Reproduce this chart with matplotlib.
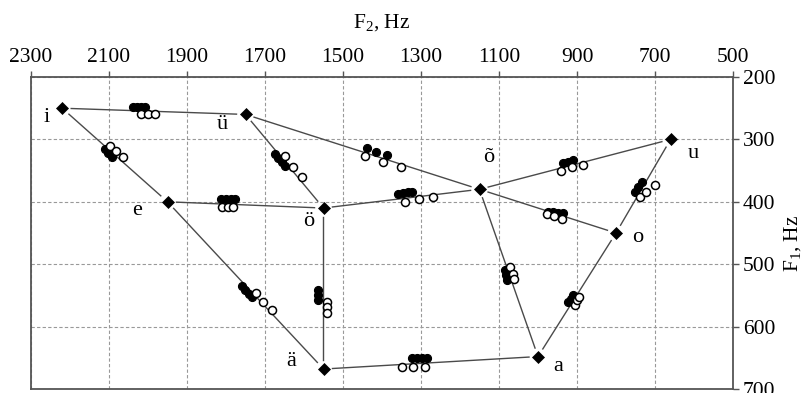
import numpy as np
import matplotlib
matplotlib.use("Agg")
import matplotlib.pyplot as plt

plt.rcParams["font.family"] = ["Liberation Serif", "DejaVu Serif"]
plt.rcParams["mathtext.fontset"] = "custom"
plt.rcParams["mathtext.rm"] = "Liberation Serif"
plt.rcParams["mathtext.it"] = "Liberation Serif:italic"

# Vowel targets (F2, F1 in Hz)
vowels = ["i", "ü", "e", "ö", "ä", "õ", "u", "o", "a"]
vowel_f2 = [2220, 1750, 1950, 1550, 1550, 1150, 660, 800, 1000]
vowel_f1 = [250, 260, 400, 410, 668, 380, 300, 450, 648]

# Transitions between vowels
edges = [("i", "ü"), ("i", "e"), ("e", "ö"), ("e", "ä"), ("ü", "ö"), ("ü", "õ"),
         ("ö", "õ"), ("ö", "ä"), ("ä", "a"), ("õ", "u"), ("õ", "o"), ("õ", "a"),
         ("u", "o"), ("o", "a")]

# Boundary estimates, series 1 (filled)
filled_f2 = [2038, 2028, 2018, 2008,
             2110, 2103, 2092,
             1814, 1801, 1788, 1776,
             1760, 1751, 1742, 1734,
             1563, 1563, 1563,
             1674, 1666, 1657, 1650,
             1439, 1415, 1388,
             1358, 1345, 1333, 1324,
             935, 922, 909,
             751, 743, 734,
             974, 961, 948, 935,
             1085, 1082, 1079,
             922, 916, 909,
             1324, 1311, 1298, 1285]
filled_f1 = [248, 248, 248, 248,
             315, 322, 328,
             396, 396, 396, 396,
             535, 541, 547, 552,
             541, 549, 557,
             323, 330, 337, 343,
             314, 320, 325,
             388, 386, 385, 384,
             338, 336, 333,
             384, 376, 368,
             416, 417, 418, 418,
             509, 517, 525,
             560, 555, 549,
             651, 651, 651, 651]

# Boundary estimates, series 2 (open)
open_f2 = [2019, 2001, 1981,
           2097, 2081, 2064,
           1811, 1796, 1781,
           1724, 1704, 1683,
           1540, 1540, 1540,
           1649, 1627, 1606,
           1444, 1398, 1351,
           1341, 1304, 1268,
           941, 914, 884,
           738, 723, 699,
           978, 959, 939,
           1072, 1063, 1062,
           905, 899, 894,
           1349, 1320, 1290]
open_f1 = [260, 260, 260,
           311, 319, 329,
           408, 408, 408,
           546, 560, 573,
           560, 568, 578,
           327, 345, 360,
           327, 336, 345,
           400, 396, 393,
           351, 345, 341,
           393, 384, 373,
           420, 423, 428,
           505, 515, 524,
           565, 557, 552,
           664, 664, 664]

# Label placement around each vowel marker (pixels: right, up)
label_dx = [-16, -23, -30, -15, -32, 9, 23, 22, 20]
label_dy = [-9, -10, -9, -13, 8, 32, -14, -5, -10]

x_ticks = [2300, 2100, 1900, 1700, 1500, 1300, 1100, 900, 700, 500]
y_ticks = [200, 300, 400, 500, 600, 700]

fig = plt.figure(figsize=(8.07, 3.93), dpi=100)
ax = fig.add_axes([31 / 807, 4 / 393, 702 / 807, 312 / 393])
ax.set_xlim(2300, 500)
ax.set_ylim(700, 200)

ax.xaxis.tick_top()
ax.yaxis.tick_right()
ax.set_xticks(x_ticks)
ax.set_yticks(y_ticks)
ax.tick_params(axis="both", direction="out", length=4, width=1, color="#555555",
               labelsize=15.5, pad=3)
ax.tick_params(axis="x", labeltop=True, labelbottom=False, top=True, bottom=False)
ax.tick_params(axis="y", labelright=True, labelleft=False, right=True, left=False)
ax.grid(True, linestyle=(0, (3, 2)), color="#999999", linewidth=0.8)
ax.set_axisbelow(True)
for sp in ax.spines.values():
    sp.set_color("#555555")
    sp.set_linewidth(1.3)

pos = {v: (x, y) for v, x, y in zip(vowels, vowel_f2, vowel_f1)}

# Connecting segments, trimmed short of the vowel markers
gap = 9.0
trans = ax.transData
inv = trans.inverted()
for a, b in edges:
    p = trans.transform(pos[a])
    q = trans.transform(pos[b])
    d = q - p
    u = d / np.hypot(*d)
    seg = inv.transform(np.array([p + u * gap, q - u * gap]))
    ax.plot(seg[:, 0], seg[:, 1], color="#4a4a4a", linewidth=1.0, zorder=2)

ax.plot(filled_f2, filled_f1, linestyle="none", marker="o", markersize=5.8,
        markerfacecolor="black", markeredgecolor="black", markeredgewidth=0.8, zorder=3)
ax.plot(open_f2, open_f1, linestyle="none", marker="o", markersize=5.8,
        markerfacecolor="white", markeredgecolor="black", markeredgewidth=1.1, zorder=4)
ax.plot(vowel_f2, vowel_f1, linestyle="none", marker="D", markersize=6.3,
        markerfacecolor="black", markeredgecolor="black", markeredgewidth=0.5, zorder=5)

for v, dx, dy in zip(vowels, label_dx, label_dy):
    ax.annotate(v, pos[v], xytext=(dx, dy), textcoords="offset pixels",
                ha="center", va="center", fontsize=16, zorder=6)

fig.text(382 / 807, 1 - 23 / 393, r"F$_{\mathrm{2}}$, Hz", ha="center", va="center",
         fontsize=15.5)
fig.text(793 / 807, 1 - 243 / 393, r"F$_{\mathrm{1}}$, Hz", ha="center", va="center",
         rotation=90, fontsize=15.5)

fig.savefig("out.png", dpi=100)
